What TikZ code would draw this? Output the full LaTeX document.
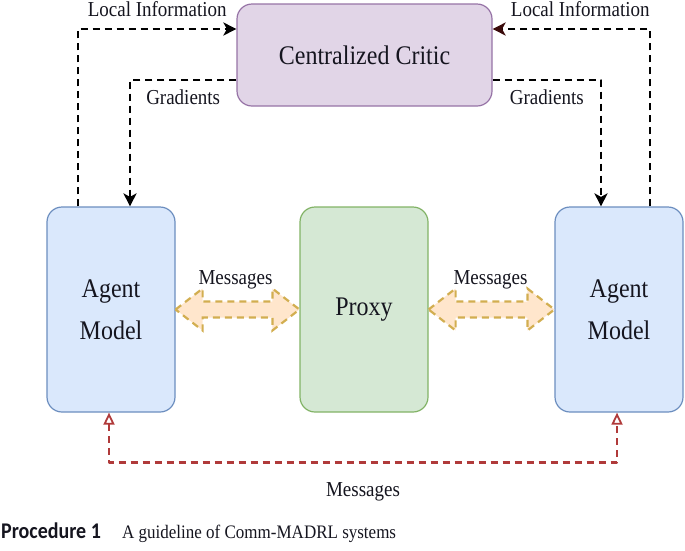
\documentclass[tikz,border=0pt]{standalone}
\usepackage{fontspec}
\setmainfont{Liberation Serif}
\newfontfamily\capfont{Carlito}
\usetikzlibrary{arrows.meta,calc}
\definecolor{criticfill}{HTML}{E1D5E7}
\definecolor{criticdraw}{HTML}{9673A6}
\definecolor{agentfill}{HTML}{DAE8FC}
\definecolor{agentdraw}{HTML}{6C8EBF}
\definecolor{proxyfill}{HTML}{D5E8D4}
\definecolor{proxydraw}{HTML}{82B366}
\definecolor{msgfill}{HTML}{FFE6CC}
\definecolor{msgdraw}{HTML}{D2AE50}
\definecolor{msgred}{HTML}{B03A3A}
\definecolor{tipred}{HTML}{3A0A0A}
\definecolor{ink}{HTML}{15151F}
\newcommand{\tl}[1]{\scalebox{1}[1.12]{#1}}
\newcommand{\msgarrow}[2]{\draw [msg] (#1) -- ++(27,-21) -- ++(0,13) -- ($(#2)+(-27,-8)$) -- ++(0,-13) -- (#2) -- ++(-27,21) -- ++(0,-13) -- ($(#1)+(27,8)$) -- ++(0,13) -- cycle;}

\begin{document}
\begin{tikzpicture}[line join=round,x=1pt,y=-1pt,
	box/.style={rounded corners=15pt,line width=1.2pt,inner sep=0pt,align=center,text=ink,font=\fontsize{24}{42}\selectfont},
	agent/.style={box,fill=agentfill,draw=agentdraw,minimum width=128pt,minimum height=205pt},
	lbl/.style={font=\fontsize{19}{22}\selectfont,inner sep=0pt,text=ink},
	info/.style={line width=2.5pt,dash pattern=on 7pt off 5pt,-{Stealth[length=13pt,width=13pt,inset=3.5pt]}},
	redmsg/.style={line width=2.3pt,color=msgred,dash pattern=on 7pt off 5pt,{Triangle[open,length=12pt,width=11pt,line width=1.8pt]}-{Triangle[open,length=12pt,width=11pt,line width=1.8pt]}},
	msg/.style={fill=msgfill,draw=msgdraw,line width=2.2pt,line join=miter,dash pattern=on 7pt off 5pt}]
	\useasboundingbox (0,0) rectangle (685,550);
	\node [box,fill=criticfill,draw=criticdraw,minimum width=255pt,minimum height=102pt] (cc) at (364.5,55) {\tl{Centralized Critic}};
	\node [agent] (la) at (111,309.5) {\tl{Agent}\\\tl{Model}};
	\node [box,fill=proxyfill,draw=proxydraw,minimum width=128pt,minimum height=205pt] (px) at (364,309.5) {\tl{Proxy}};
	\node [agent] (ra) at (619,309.5) {\tl{Agent}\\\tl{Model}};
	\draw [info] ([xshift=-33pt]la.north) |- node [lbl,pos=0.75,above=11pt] (lil) {\tl{Local Information}} ([yshift=26pt]cc.west);
	\draw [info] ([yshift=-25pt]cc.west) -| node [lbl,pos=0.25,below=8pt] (grl) {\tl{Gradients}} ([xshift=19pt]la.north);
	\draw [info,-{Stealth[length=13pt,width=13pt,inset=3.5pt,color=tipred]}] ([xshift=31pt]ra.north) |- node [lbl,pos=0.75,above=11pt,xshift=9pt] (lir) {\tl{Local Information}} ([yshift=26pt]cc.east);
	\draw [info] ([yshift=-25pt]cc.east) -| node [lbl,pos=0.25,below=8pt] (grr) {\tl{Gradients}} ([xshift=-18pt]ra.north);
	\msgarrow{la.east}{px.west}
	\msgarrow{px.east}{ra.west}
	\node [lbl,anchor=base] (ml) at ($(la.east)!0.5!(px.west)+(-2,-25)$) {\tl{Messages}};
	\node [lbl,anchor=base] (mr) at ($(px.east)!0.5!(ra.west)+(-1,-25)$) {\tl{Messages}};
	\draw [redmsg] ([xshift=-2pt]la.south) -- ++(0,50) -| node [lbl,pos=0.25,below=19pt] (mb) {\tl{Messages}} ([xshift=-2pt]ra.south);
	\node [anchor=base west,inner sep=0pt,text=ink,font=\capfont\bfseries\fontsize{20}{20}\selectfont] (proc) at (1,538) {\tl{Procedure 1}};
	\node [anchor=base west,inner sep=0pt,text=ink,font=\fontsize{17}{20}\selectfont] (cap) at (122,538) {\tl{A guideline of Comm-MADRL systems}};
\end{tikzpicture}
\end{document}
